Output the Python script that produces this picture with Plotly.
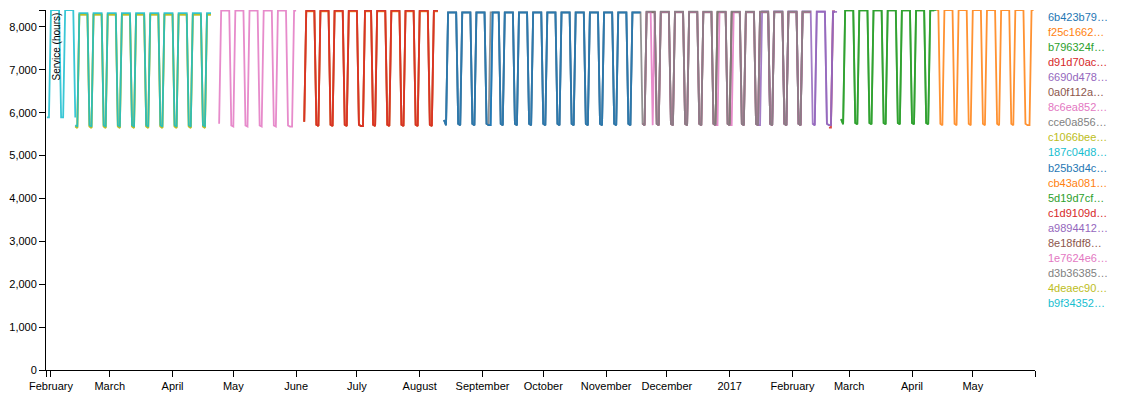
import pandas as pd
import plotly.graph_objects as go

# ---- data ----
series_names = ["6b423b79…", "f25c1662…", "b796324f…", "d91d70ac…", "6690d478…",
                "0a0f112a…", "8c6ea852…", "cce0a856…", "c1066bee…", "187c04d8…",
                "b25b3d4c…", "cb43a081…", "5d19d7cf…", "c1d9109d…", "a9894412…",
                "8e18fdf8…", "1e7624e6…", "d3b36385…", "4deaec90…", "b9f34352…"]
palette = ["#1f77b4", "#ff7f0e", "#2ca02c", "#d62728", "#9467bd",
           "#8c564b", "#e377c2", "#7f7f7f", "#bcbd22", "#17becf"]

series_start = ["2016-08-13", "2017-04-13", "2017-02-25", "2017-02-19", "2017-02-11",
                "2016-06-05", "2016-04-24", "2016-08-13", "2016-02-13", "2016-01-30",
                "2016-08-13", "2016-06-05", "2017-02-25", "2016-06-05", "2017-01-14",
                "2016-11-19", "2016-11-19", "2016-11-19", "2016-02-13", "2016-02-13"]
series_end = ["2016-11-18", "2017-05-31", "2017-04-12", "2017-02-22", "2017-02-23",
              "2016-08-10", "2016-06-01", "2017-02-10", "2016-04-20", "2016-02-13",
              "2016-11-18", "2016-08-10", "2017-04-13", "2016-08-10", "2017-02-22",
              "2017-02-10", "2017-02-10", "2017-02-10", "2016-04-20", "2016-04-20"]
weekday_hours = [8335, 8390, 8380, 8360, 8350, 8370, 8380, 8340, 8290, 8395,
                 8340, 8365, 8395, 8380, 8360, 8345, 8350, 8355, 8285, 8320]
saturday_hours = [5740, 5740, 5760, 5700, 5740, 5720, 5700, 5740, 5690, 5890,
                  5740, 5720, 5760, 5720, 5740, 5740, 5740, 5740, 5680, 5710]
sunday_hours = [5710, 5710, 5730, 5650, 5710, 5690, 5675, 5710, 5650, 5890,
                5710, 5690, 5730, 5690, 5710, 5710, 5710, 5710, 5645, 5675]
# days run at Sunday level (holidays)
holiday_dates = [["2016-09-05"], ["2017-05-29"], [], ["2017-02-20"], ["2017-02-20"],
                 ["2016-07-04"], ["2016-05-30"], [], [], ["2016-02-13"],
                 ["2016-09-05"], ["2016-07-04"], [], ["2016-07-04"], ["2017-01-16", "2017-02-20"],
                 [], ["2016-11-24", "2016-12-26", "2017-01-02"], [], [], []]
first_day_hours = [5830, None, 5850, None, None, 5790, 5740, 5830, None, None,
                   5830, 5790, 5850, 5790, None, None, None, None, None, None]

x_tick_dates = ["2016-02-01", "2016-03-01", "2016-04-01", "2016-05-01", "2016-06-01",
                "2016-07-01", "2016-08-01", "2016-09-01", "2016-10-01", "2016-11-01",
                "2016-12-01", "2017-01-01", "2017-02-01", "2017-03-01", "2017-04-01",
                "2017-05-01"]
x_tick_labels = ["February", "March", "April", "May", "June", "July", "August",
                 "September", "October", "November", "December", "2017", "February",
                 "March", "April", "May"]
y_tick_values = [0, 1000, 2000, 3000, 4000, 5000, 6000, 7000, 8000]
x_range = ["2016-01-29 13:00", "2017-05-31 17:00"]
y_max = 8395

# ---- figure ----
fig = go.Figure()
for i, name in enumerate(series_names):
    days = pd.date_range(series_start[i], series_end[i], freq="D")
    hol = set(holiday_dates[i])
    vals = []
    for d in days:
        ds = d.strftime("%Y-%m-%d")
        if ds in hol or d.weekday() == 6:
            v = sunday_hours[i]
        elif d.weekday() == 5:
            v = saturday_hours[i]
        else:
            v = weekday_hours[i]
        vals.append(v)
    if first_day_hours[i] is not None:
        vals[0] = first_day_hours[i]
    fig.add_trace(go.Scatter(
        x=[d.strftime("%Y-%m-%d") for d in days], y=vals, mode="lines", name=name,
        line=dict(color=palette[i % 10], width=1.8), opacity=0.85,
        showlegend=False, hoverinfo="skip"))

font = dict(family="Liberation Sans, Arial, sans-serif", size=11, color="#000")

fig.update_layout(
    width=1127, height=397,
    margin=dict(l=46, r=92, t=10, b=27, autoexpand=False),
    plot_bgcolor="white", paper_bgcolor="white",
    font=font,
    showlegend=False,
    xaxis=dict(type="date", range=x_range, automargin=False,
               tickvals=[x_range[0]] + x_tick_dates + [x_range[1]],
               ticktext=[""] + x_tick_labels + [""],
               showgrid=False, zeroline=False, showline=True, linecolor="#000",
               linewidth=1, ticks="outside", ticklen=6, tickcolor="#000",
               tickfont=font),
    yaxis=dict(range=[0, y_max], automargin=False,
               tickvals=y_tick_values + [y_max],
               ticktext=[f"{v:,}" for v in y_tick_values] + [""],
               showgrid=False, zeroline=False, showline=True, linecolor="#000",
               linewidth=1, ticks="outside", ticklen=6, tickcolor="#000",
               tickfont=font),
)

fig.add_annotation(text="Service (hours)", xref="paper", yref="paper", x=0, y=1,
                   xanchor="left", yanchor="top", xshift=2, yshift=-1, textangle=-90,
                   showarrow=False, font=dict(family="Liberation Sans, Arial, sans-serif",
                                              size=10, color="#000"))

plot_h = 397 - 10 - 27
for i, name in enumerate(series_names):
    ypix = 17 + i * 15.05
    fig.add_annotation(text=name, xref="paper", yref="paper", x=1,
                       y=(370 - ypix) / plot_h, xanchor="left", yanchor="middle",
                       xshift=11, showarrow=False,
                       font=dict(family="Liberation Sans, Arial, sans-serif",
                                 size=11, color=palette[i % 10]))

fig.write_html("out.html", config={"displayModeBar": False},
               post_script="document.body.style.margin='0';document.body.style.padding='0';")
